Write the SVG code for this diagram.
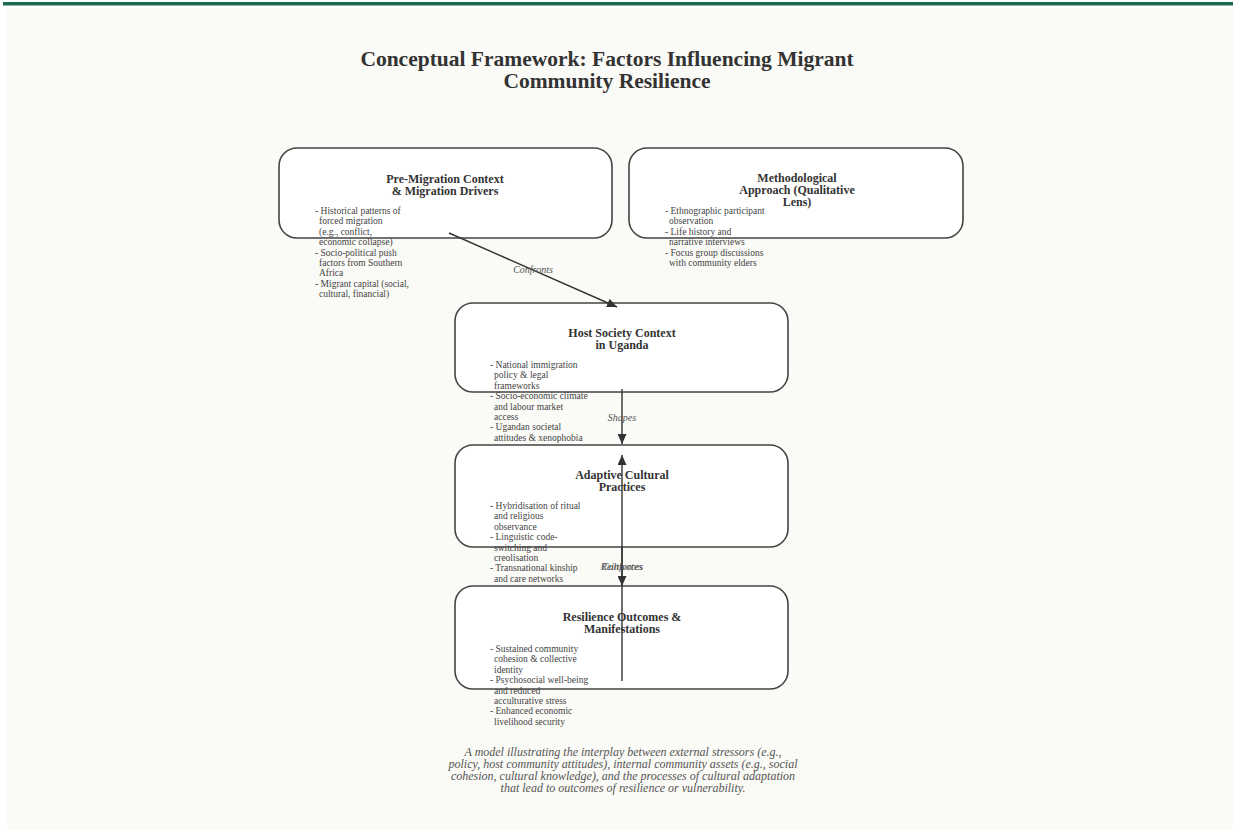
<svg xmlns="http://www.w3.org/2000/svg" width="1233" height="833" viewBox="0 0 1233 833">
<style>
.title{font-family:"Liberation Serif",serif;font-weight:bold;font-size:21.5px;fill:#333;text-anchor:middle}
.nt{font-family:"Liberation Serif",serif;font-weight:bold;font-size:12px;fill:#333;text-anchor:middle}
.it{font-family:"Liberation Serif",serif;font-size:9.5px;fill:#444}
.box{fill:#ffffff;stroke:#444;stroke-width:1.6}
.edge{stroke:#333;stroke-width:1.4;fill:none}
.el{font-family:"Liberation Serif",serif;font-style:italic;font-size:10px;fill:#555;text-anchor:middle}
.cap{font-family:"Liberation Serif",serif;font-style:italic;font-size:12px;fill:#555;text-anchor:middle}
</style>
<defs>
<marker id="arr" viewBox="0 0 10 10" refX="10" refY="5" markerWidth="10" markerHeight="9" markerUnits="userSpaceOnUse" orient="auto" preserveAspectRatio="none">
<path d="M0,0 L10,5 L0,10 z" fill="#333"/>
</marker>
</defs>
<rect x="0" y="0" width="1233" height="833" fill="#ffffff"/>
<rect x="3" y="2" width="1230" height="3.5" fill="#1b6b4f"/>
<rect x="7" y="8.5" width="1226" height="821" fill="#fafaf6"/>
<g id="title">
<text class="title" x="607" y="66">Conceptual Framework: Factors Influencing Migrant</text>
<text class="title" x="607" y="87.5">Community Resilience</text>
</g>
<g id="pre-migration">
<rect class="box" x="279" y="148" width="333" height="90" rx="18"/>
<text class="nt" x="445" y="183">Pre-Migration Context</text>
<text class="nt" x="445" y="195">&amp; Migration Drivers</text>
<text class="it" x="315" y="214">- Historical patterns of</text>
<text class="it" x="319" y="224.4">forced migration</text>
<text class="it" x="319" y="234.8">(e.g., conflict,</text>
<text class="it" x="319" y="245.2">economic collapse)</text>
<text class="it" x="315" y="255.6">- Socio-political push</text>
<text class="it" x="319" y="266">factors from Southern</text>
<text class="it" x="319" y="276.4">Africa</text>
<text class="it" x="315" y="286.8">- Migrant capital (social,</text>
<text class="it" x="319" y="297.2">cultural, financial)</text>
</g>
<g id="methodology">
<rect class="box" x="629" y="148" width="334" height="90" rx="18"/>
<text class="nt" x="797" y="182">Methodological</text>
<text class="nt" x="797" y="194">Approach (Qualitative</text>
<text class="nt" x="797" y="206">Lens)</text>
<text class="it" x="665" y="214">- Ethnographic participant</text>
<text class="it" x="669" y="224.4">observation</text>
<text class="it" x="665" y="234.8">- Life history and</text>
<text class="it" x="669" y="245.2">narrative interviews</text>
<text class="it" x="665" y="255.6">- Focus group discussions</text>
<text class="it" x="669" y="266">with community elders</text>
</g>
<g id="host-society">
<rect class="box" x="455" y="303" width="333" height="89" rx="18"/>
<text class="nt" x="622" y="337">Host Society Context</text>
<text class="nt" x="622" y="349">in Uganda</text>
<text class="it" x="490" y="368">- National immigration</text>
<text class="it" x="494" y="378.4">policy &amp; legal</text>
<text class="it" x="494" y="388.8">frameworks</text>
<text class="it" x="490" y="399.2">- Socio-economic climate</text>
<text class="it" x="494" y="409.6">and labour market</text>
<text class="it" x="494" y="420">access</text>
<text class="it" x="490" y="430.4">- Ugandan societal</text>
<text class="it" x="494" y="440.8">attitudes &amp; xenophobia</text>
</g>
<g id="adaptive-practices">
<rect class="box" x="455" y="445" width="333" height="102" rx="18"/>
<text class="nt" x="622" y="479">Adaptive Cultural</text>
<text class="nt" x="622" y="491">Practices</text>
<text class="it" x="490" y="509">- Hybridisation of ritual</text>
<text class="it" x="494" y="519.4">and religious</text>
<text class="it" x="494" y="529.8">observance</text>
<text class="it" x="490" y="540.2">- Linguistic code-</text>
<text class="it" x="494" y="550.6">switching and</text>
<text class="it" x="494" y="561">creolisation</text>
<text class="it" x="490" y="571.4">- Transnational kinship</text>
<text class="it" x="494" y="581.8">and care networks</text>
</g>
<g id="resilience-outcomes">
<rect class="box" x="455" y="586" width="333" height="103" rx="18"/>
<text class="nt" x="622" y="621">Resilience Outcomes &amp;</text>
<text class="nt" x="622" y="633">Manifestations</text>
<text class="it" x="490" y="652">- Sustained community</text>
<text class="it" x="494" y="662.4">cohesion &amp; collective</text>
<text class="it" x="494" y="672.8">identity</text>
<text class="it" x="490" y="683.2">- Psychosocial well-being</text>
<text class="it" x="494" y="693.6">and reduced</text>
<text class="it" x="494" y="704">acculturative stress</text>
<text class="it" x="490" y="714.4">- Enhanced economic</text>
<text class="it" x="494" y="724.8">livelihood security</text>
</g>
<g id="connectors">
<line class="edge" x1="449" y1="233" x2="617" y2="307" marker-end="url(#arr)"/>
<text class="el" x="533" y="273">Confronts</text>
<line class="edge" x1="622" y1="389" x2="622" y2="444" marker-end="url(#arr)"/>
<text class="el" x="622" y="421">Shapes</text>
<line class="edge" x1="622" y1="547" x2="622" y2="586" marker-end="url(#arr)"/>
<text class="el" x="622" y="570">Cultivates</text>
<line class="edge" x1="622" y1="681" x2="622" y2="455" marker-end="url(#arr)"/>
<text class="el" x="622" y="570">Reinforces</text>
</g>
<g id="caption">
<text class="cap" x="623" y="756">A model illustrating the interplay between external stressors (e.g.,</text>
<text class="cap" x="623" y="768">policy, host community attitudes), internal community assets (e.g., social</text>
<text class="cap" x="623" y="780">cohesion, cultural knowledge), and the processes of cultural adaptation</text>
<text class="cap" x="623" y="792">that lead to outcomes of resilience or vulnerability.</text>
</g>
</svg>
